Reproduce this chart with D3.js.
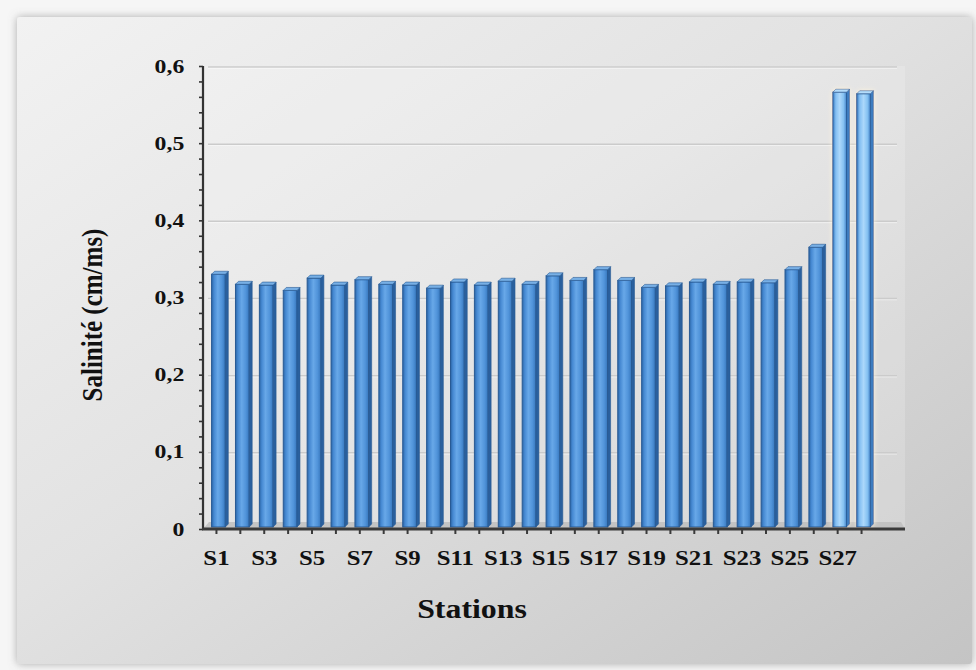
<!DOCTYPE html>
<html>
<head>
<meta charset="utf-8">
<script src="https://cdn.jsdelivr.net/npm/d3@7/dist/d3.min.js"></script>
<style>
  html, body { margin: 0; padding: 0; background: #f6f6f6; }
  svg { display: block; }
  text { font-family: "Liberation Serif", "Times New Roman", serif; font-weight: bold; fill: #111; }
</style>
</head>
<body>
<svg id="chart" width="976" height="670"></svg>
<script>
// Stations sampled and their measured salinity
const stations = ["S1","S2","S3","S4","S5","S6","S7","S8","S9","S10","S11","S12","S13","S14",
                  "S15","S16","S17","S18","S19","S20","S21","S22","S23","S24","S25","S26","S27","S28"];
const salinity = [0.334,0.321,0.320,0.313,0.329,0.320,0.327,0.321,0.320,0.316,0.324,0.320,0.325,0.321,
                  0.332,0.326,0.340,0.326,0.317,0.319,0.324,0.321,0.324,0.323,0.340,0.369,0.570,0.568];
const highlighted = ["S27","S28"];
const yTicks = [0, 0.1, 0.2, 0.3, 0.4, 0.5, 0.6];
const yTickLabels = ["0", "0,1", "0,2", "0,3", "0,4", "0,5", "0,6"];
const yMinorTicks = [0,0.02,0.04,0.06,0.08,0.1,0.12,0.14,0.16,0.18,0.2,0.22,0.24,0.26,0.28,0.3,
                     0.32,0.34,0.36,0.38,0.4,0.42,0.44,0.46,0.48,0.5,0.52,0.54,0.56,0.58,0.6];
const xTitle = "Stations";
const yTitle = "Salinité (cm/ms)";

const svg = d3.select("#chart");
const defs = svg.append("defs");

// panel background gradient and shadow
const pg = defs.append("linearGradient").attr("id", "panelGrad")
  .attr("x1", 0).attr("y1", 0).attr("x2", 1).attr("y2", 1);
pg.append("stop").attr("offset", "0%").attr("stop-color", "#f2f2f2");
pg.append("stop").attr("offset", "45%").attr("stop-color", "#e2e2e2");
pg.append("stop").attr("offset", "100%").attr("stop-color", "#c4c4c4");

const sh = defs.append("filter").attr("id", "panelShadow")
  .attr("x", "-5%").attr("y", "-5%").attr("width", "110%").attr("height", "110%");
sh.append("feDropShadow").attr("dx", 0).attr("dy", 0).attr("stdDeviation", 4)
  .attr("flood-color", "#7a7a7a").attr("flood-opacity", 0.6);

const glow = defs.append("filter").attr("id", "barGlow")
  .attr("x", "-60%").attr("y", "-10%").attr("width", "220%").attr("height", "120%");
glow.append("feDropShadow").attr("dx", 0).attr("dy", 0).attr("stdDeviation", 2.5)
  .attr("flood-color", "#fff4dc").attr("flood-opacity", 1);

function barGradient(id, stops) {
  const g = defs.append("linearGradient").attr("id", id)
    .attr("x1", 0).attr("y1", 0).attr("x2", 1).attr("y2", 0);
  stops.forEach(([o, c]) => g.append("stop").attr("offset", o).attr("stop-color", c));
}
barGradient("barFront", [["0%", "#2c66a6"], ["18%", "#4689d2"], ["45%", "#68a8e8"], ["75%", "#5194da"], ["100%", "#3777bd"]]);
barGradient("barFrontHi", [["0%", "#3677bf"], ["22%", "#84bff2"], ["50%", "#acd8fb"], ["78%", "#86c2f2"], ["100%", "#4686cc"]]);

// panel
svg.append("rect").attr("x", 17).attr("y", 17).attr("width", 955).attr("height", 647)
  .attr("rx", 3).attr("fill", "url(#panelGrad)").attr("filter", "url(#panelShadow)");

// scales
const y = d3.scaleLinear().domain([0, 0.6]).range([529, 66]);
const x = d3.scaleBand().domain(stations).range([205, 874])
  .paddingInner(0.3).paddingOuter(0.15);
const depth = 3;
const axisEnd = 905;

// back wall (faint)
svg.append("rect").attr("x", 205).attr("y", y(0.6)).attr("width", axisEnd - 205)
  .attr("height", y(0) - y(0.6)).attr("fill", "#ffffff").attr("opacity", 0.18);

// gridlines
svg.append("g").selectAll("line").data(yTicks.filter(d => d > 0)).join("line")
  .attr("x1", 208).attr("x2", axisEnd - 8)
  .attr("y1", d => y(d) + 1).attr("y2", d => y(d) + 1)
  .attr("stroke", "#cbcbcb").attr("stroke-width", 1.5);
svg.append("g").selectAll("line").data(yTicks.filter(d => d > 0)).join("line")
  .attr("x1", 208).attr("x2", axisEnd - 8)
  .attr("y1", d => y(d) + 2.3).attr("y2", d => y(d) + 2.3)
  .attr("stroke", "#ffffff").attr("stroke-width", 0.8).attr("opacity", 0.6);

// floor strip
svg.append("polygon")
  .attr("points", [[203, y(0)], [209, y(0) - 7], [axisEnd - 4, y(0) - 7], [axisEnd, y(0)]].join(" "))
  .attr("fill", "#bdbdbd").attr("opacity", 0.8);

// bars
const data = stations.map((s, i) => ({ s, v: salinity[i], hi: highlighted.includes(s) }));
const bw = x.bandwidth();
const bars = svg.append("g").selectAll("g").data(data).join("g")
  .attr("filter", d => d.hi ? "url(#barGlow)" : null);

const yBase = y(0) - 2;
bars.append("rect")
  .attr("x", d => x(d.s) + depth)
  .attr("y", d => y(d.v) + depth)
  .attr("width", bw - depth)
  .attr("height", d => yBase - y(d.v) - depth)
  .attr("fill", d => d.hi ? "url(#barFrontHi)" : "url(#barFront)")
  .attr("stroke", "#285a94").attr("stroke-width", 1);
bars.append("polygon")   // side face
  .attr("points", d => {
    const x0 = x(d.s) + bw, t = y(d.v);
    return [[x0, t + depth], [x0 + depth, t], [x0 + depth, yBase - depth], [x0, yBase]].join(" ");
  })
  .attr("fill", d => d.hi ? "#3d7cc0" : "#2a609e")
  .attr("stroke", "#285a94").attr("stroke-width", 0.6);
bars.append("polygon")   // top cap
  .attr("points", d => {
    const x0 = x(d.s), t = y(d.v);
    return [[x0 + depth, t + depth], [x0 + 2 * depth, t], [x0 + bw + depth, t], [x0 + bw, t + depth]].join(" ");
  })
  .attr("fill", d => d.hi ? "#b4dcfb" : "#78b0e6")
  .attr("stroke", "#285a94").attr("stroke-width", 0.6);

// y axis
const yAxisMinor = d3.axisLeft(y).tickValues(yMinorTicks).tickSize(4).tickFormat("");
svg.append("g").attr("transform", "translate(203,0)").call(yAxisMinor)
  .call(g => g.select(".domain").remove())
  .call(g => g.selectAll(".tick line").attr("stroke", "#333").attr("stroke-width", 1.6));
const yAxis = d3.axisLeft(y).tickValues(yTicks).tickSize(0).tickPadding(15)
  .tickFormat((d, i) => yTickLabels[i]);
svg.append("g").attr("transform", "translate(203,0)").call(yAxis)
  .call(g => g.select(".domain").remove())
  .call(g => g.selectAll("text").attr("font-size", 19).attr("fill", "#111")
    .attr("font-family", "Liberation Serif, Times New Roman, serif").attr("font-weight", "bold")
    .attr("transform", "scale(1.25,1)"));
svg.append("line").attr("x1", 203).attr("x2", 203).attr("y1", y(0.6)).attr("y2", y(0) + 1)
  .attr("stroke", "#333").attr("stroke-width", 2.2);

// x axis
const xCenter = s => x(s) + bw / 2 - 0.5;
svg.append("line").attr("x1", 202).attr("x2", axisEnd).attr("y1", y(0)).attr("y2", y(0))
  .attr("stroke", "#3a3a3a").attr("stroke-width", 3);
svg.append("g").selectAll("line").data(stations).join("line")
  .attr("x1", d => xCenter(d)).attr("x2", d => xCenter(d))
  .attr("y1", y(0)).attr("y2", y(0) + 5)
  .attr("stroke", "#3a3a3a").attr("stroke-width", 2);
svg.append("g").selectAll("text").data(stations.filter((d, i) => i % 2 === 0)).join("text")
  .attr("transform", d => `translate(${xCenter(d)},565) scale(1.18,1)`)
  .attr("text-anchor", "middle").attr("font-size", 21).text(d => d);

// titles
svg.append("text").attr("transform", "translate(472,618) scale(1.18,1)").attr("text-anchor", "middle")
  .attr("font-size", 27).text(xTitle);
svg.append("text").attr("transform", "translate(102,315) scale(1.2,1) rotate(-90)")
  .attr("text-anchor", "middle").attr("font-size", 25).text(yTitle);
</script>
</body>
</html>
